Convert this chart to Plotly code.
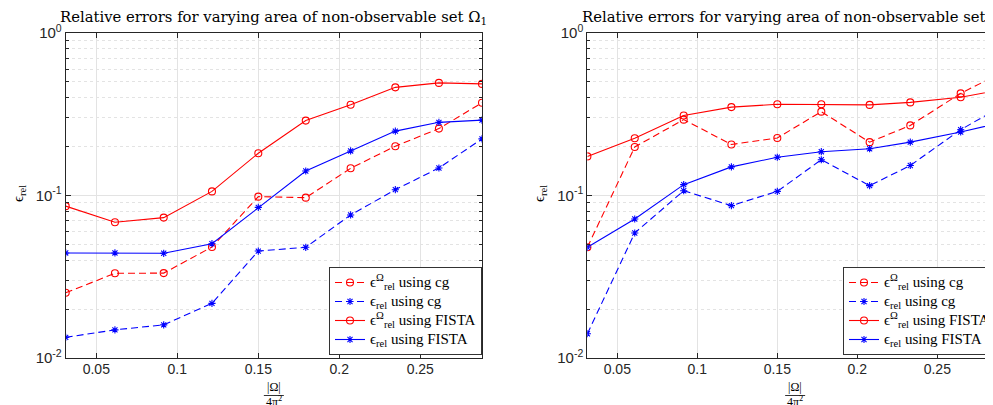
import plotly.graph_objects as go

# ---------------- data ----------------
x_left = [0.0311, 0.0615, 0.0916, 0.1214, 0.15, 0.1793, 0.207, 0.2346, 0.2615, 0.2881]
left_fista_omega = [0.086, 0.0684, 0.0731, 0.106, 0.182, 0.289, 0.362, 0.463, 0.493, 0.486]
left_cg_omega = [0.0252, 0.0332, 0.0333, 0.0482, 0.0984, 0.097, 0.147, 0.201, 0.258, 0.372]
left_fista_rel = [0.0443, 0.0443, 0.0441, 0.0505, 0.0845, 0.1415, 0.188, 0.249, 0.282, 0.291]
left_cg_rel = [0.0134, 0.0149, 0.0160, 0.0217, 0.0455, 0.048, 0.0759, 0.1086, 0.1477, 0.223]

x_right = [0.0313, 0.0609, 0.0915, 0.1213, 0.15, 0.1775, 0.2077, 0.2331, 0.2646, 0.2925]
right_fista_omega = [0.174, 0.225, 0.311, 0.350, 0.364, 0.364, 0.361, 0.374, 0.402, 0.452]
right_cg_omega = [0.048, 0.199, 0.293, 0.206, 0.226, 0.328, 0.213, 0.270, 0.425, 0.585]
right_fista_rel = [0.048, 0.0717, 0.1166, 0.150, 0.172, 0.186, 0.194, 0.213, 0.246, 0.285]
right_cg_rel = [0.0141, 0.0588, 0.107, 0.0866, 0.106, 0.166, 0.115, 0.153, 0.254, 0.365]

y_tickvals = [0.01, 0.1, 1]
y_ticktext = ["10<sup>-2</sup>", "10<sup>-1</sup>", "10<sup>0</sup>"]
x_tickvals = [0.05, 0.1, 0.15, 0.2, 0.25]
x_ticktext = ["0.05", "0.1", "0.15", "0.2", "0.25"]
minor_vals = [k * 10 ** e for e in (-2, -1) for k in range(2, 10)]

titles = ["Relative errors for varying area of non-observable set Ω<sub>1</sub>",
          "Relative errors for varying area of non-observable set Ω<sub>2</sub>"]
names = ["ϵ<sup>Ω</sup><sub>rel</sub> using cg", "ϵ<sub>rel</sub> using cg",
         "ϵ<sup>Ω</sup><sub>rel</sub> using FISTA", "ϵ<sub>rel</sub> using FISTA"]

RED = "#ff0000"
BLUE = "#0000ff"
SERIF = "DejaVu Serif"
SERIF2 = "Liberation Serif"
SANS = "Liberation Sans"

W, H = 993, 405
ML, MR, MT, MB = 0, 0, 25, 55
PW = W - ML - MR
PH = H - MT - MB


def py(px):
    """pixel row -> paper y"""
    return (PH + MT - px) / PH


fig = go.Figure()


def add_panel(xs, cg_om, cg_rel, fi_om, fi_rel, xa, ya, leg):
    specs = [
        (cg_om, RED, "dash", "circle-open", 7, names[0]),
        (cg_rel, BLUE, "dash", "asterisk-open", 6, names[1]),
        (fi_om, RED, "solid", "circle-open", 7, names[2]),
        (fi_rel, BLUE, "solid", "asterisk-open", 6, names[3]),
    ]
    for ys, col, dash, sym, sz, nm in specs:
        fig.add_trace(go.Scatter(
            x=xs, y=ys, mode="lines+markers",
            name='<span style="font-size:15px">' + nm + "</span>",
            line=dict(color=col, width=1.1, dash=("7px,4px" if dash == "dash" else "solid")),
            marker=dict(symbol=sym, size=sz, color=col, line=dict(color=col, width=1.1)),
            xaxis=xa, yaxis=ya, legend=leg,
        ))


add_panel(x_left, left_cg_omega, left_cg_rel, left_fista_omega, left_fista_rel, "x", "y", "legend")
add_panel(x_right, right_cg_omega, right_cg_rel, right_fista_omega, right_fista_rel, "x2", "y2", "legend2")

L1, R1 = 57.7, 474.0
L2, R2 = 579.3, 993.0

common_x = dict(
    tickvals=x_tickvals, ticktext=x_ticktext, ticks="inside", ticklen=5,
    tickcolor="#262626", showline=True, linecolor="#262626", linewidth=1,
    showgrid=True, gridcolor="#e3e3e3", gridwidth=1, zeroline=False,
    tickfont=dict(family=SANS, size=14, color="#262626"), ticklabelstandoff=-2,
)
common_y = dict(
    type="log", range=[-2, 0], tickvals=y_tickvals, ticktext=y_ticktext,
    ticks="inside", ticklen=5, tickcolor="#262626", showline=True,
    linecolor="#262626", linewidth=1, showgrid=True, gridcolor="#e3e3e3",
    zeroline=False, tickfont=dict(family=SANS, size=15, color="#262626"),
    minor=dict(tickvals=minor_vals, ticks="inside", ticklen=3, tickcolor="#262626",
               showgrid=True, gridcolor="#e3e3e3", griddash="dot", gridwidth=1),
)

legend_common = dict(
    yanchor="top", y=py(259), xanchor="right",
    bgcolor="white", bordercolor="#333333", borderwidth=1,
    font=dict(family=SERIF2, size=11, color="#000"), tracegroupgap=0,
    itemwidth=30,
)

fig.update_layout(
    width=W, height=H,
    margin=dict(l=ML, r=MR, t=MT, b=MB),
    paper_bgcolor="white", plot_bgcolor="white",
    xaxis=dict(domain=[L1 / PW, R1 / PW], range=[0.0311, 0.2881], anchor="y", mirror="ticks", **common_x),
    yaxis=dict(domain=[0, 1], anchor="x", mirror="ticks", **common_y),
    xaxis2=dict(domain=[L2 / PW, R2 / PW], range=[0.03125, 0.2898], anchor="y2", mirror="ticks", **common_x),
    yaxis2=dict(domain=[0, 1], anchor="x2", mirror=False, **common_y),
    legend=dict(x=R1 / PW, **legend_common),
    legend2=dict(x=988 / PW, **legend_common),
    showlegend=True,
)

ann = []
for (l, r), t in zip([(L1, R1), (L2, R2 + 2)], titles):
    cx = (l + r) / 2 / PW
    ann.append(dict(text=t, x=cx, y=py(9), xref="paper", yref="paper",
                    showarrow=False, xanchor="center", yanchor="middle",
                    font=dict(family=SERIF, size=14.8, color="#000")))
    # x label fraction |Ω| / 4π²
    ann.append(dict(text="|Ω|", x=cx, y=py(379), xref="paper", yref="paper",
                    showarrow=False, xanchor="center", yanchor="middle",
                    font=dict(family=SERIF2, size=12, color="#000")))
    ann.append(dict(text="4π<sup>2</sup>", x=cx, y=py(393), xref="paper", yref="paper",
                    showarrow=False, xanchor="center", yanchor="middle",
                    font=dict(family=SERIF2, size=12, color="#000")))
    fig.add_shape(type="line", xref="paper", yref="paper",
                  x0=cx - 10 / PW, x1=cx + 10 / PW, y0=py(387.5), y1=py(387.5),
                  line=dict(color="#000", width=0.8))
# y labels
for xl in (11, 532):
    ann.append(dict(text="ϵ<sub>rel</sub>", x=xl / PW, y=py(186), xref="paper", yref="paper",
                    showarrow=False, textangle=-90, xanchor="center", yanchor="middle",
                    font=dict(family=SERIF2, size=15, color="#000")))
fig.update_layout(annotations=ann)

fig.write_html("out.html")
